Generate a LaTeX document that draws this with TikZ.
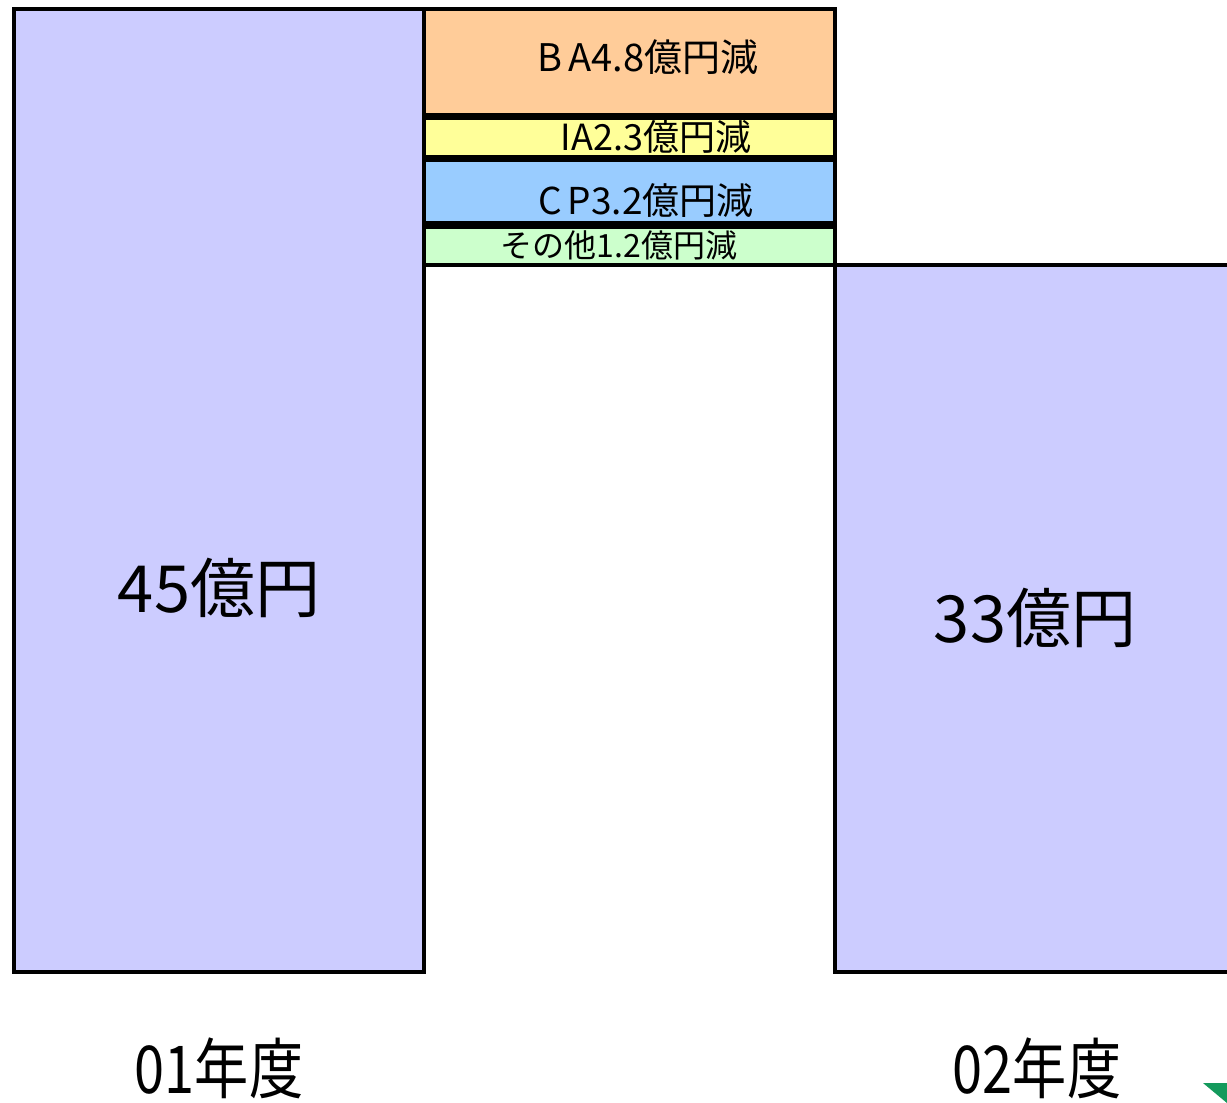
\documentclass[tikz,border=0pt]{standalone}
\usepackage{fontspec}
\setmainfont{Noto Sans CJK JP}
\definecolor{barfill}{HTML}{CCCCFF}
\definecolor{bafill}{HTML}{FFCC99}
\definecolor{iafill}{HTML}{FFFF99}
\definecolor{cpfill}{HTML}{99CCFF}
\definecolor{otfill}{HTML}{CCFFCC}
\definecolor{markgreen}{HTML}{149A5C}
\begin{document}
\begin{tikzpicture}[x=1pt,y=-1pt,
  box/.style={draw=black,line width=4pt,rectangle,inner sep=0pt,anchor=center},
  big/.style={font=\fontsize{65}{70}\selectfont,inner sep=0pt},
  year/.style={font=\fontsize{66}{70}\selectfont,inner sep=0pt,xscale=0.82},
  lab/.style={font=\fontsize{37}{40}\selectfont,inner sep=0pt}]
\useasboundingbox (0,0) rectangle (1227,1103);
\node[box,fill=barfill,minimum width=410pt,minimum height=963pt] (left) at (219,490.5) {};
\node[box,fill=bafill,minimum width=411pt,minimum height=106pt] (ba) at (629.5,62) {};
\node[box,fill=iafill,minimum width=411pt,minimum height=39pt] (ia) at (629.5,137.5) {};
\node[box,fill=cpfill,minimum width=411pt,minimum height=63pt] (cp) at (629.5,191.5) {};
\node[box,fill=otfill,minimum width=411pt,minimum height=38pt] (ot) at (629.5,246) {};
\node[box,fill=barfill,minimum width=420pt,minimum height=707pt] (right) at (1045,618.5) {};
\node[lab,font=\fontsize{38}{40}\selectfont] (tba) at (648,57) {B\,A4.8億円減};
\node[lab,font=\fontsize{36}{40}\selectfont] (tia) at (656,137) {IA2.3億円減};
\node[lab,font=\fontsize{37}{40}\selectfont] (tcp) at (646,201) {C\,P3.2億円減};
\node[lab,font=\fontsize{32}{34}\selectfont] (tot) at (619,245) {その他1.2億円減};
\node[big] (v45) at (219,588) {45億円};
\node[big] (v33) at (1035,618) {33億円};
\node[year] (y01) at (219,1068) {01年度};
\node[year] (y02) at (1037,1068) {02年度};
\fill[markgreen] (1203,1083) -- (1227,1083) -- (1227,1103) -- cycle;
\end{tikzpicture}
\end{document}
